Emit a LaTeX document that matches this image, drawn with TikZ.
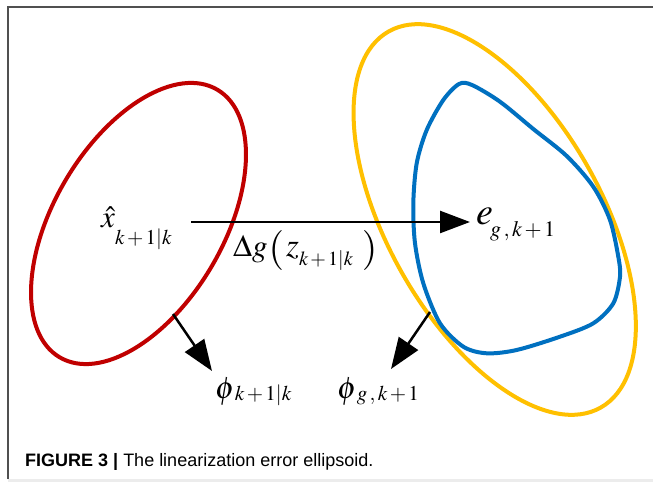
\documentclass[tikz,border=0pt]{standalone}
\usepackage{mathptmx}
\usepackage{fontspec}
\setsansfont{Liberation Sans}
\usetikzlibrary{arrows.meta}
\definecolor{redE}{RGB}{192,0,0}
\definecolor{goldE}{RGB}{255,192,0}
\definecolor{blueE}{RGB}{0,112,192}
\definecolor{frameC}{RGB}{80,80,80}
% #1 main size, #2 main math, #3 sub size, #4 sub math, #5 drop, #6 kern
\newcommand\mylab[6]{\mbox{\fontsize{#1}{#1}\selectfont$#2$}\kern#6\raisebox{-#5}{\fontsize{#3}{#3}\selectfont$#4$}}
\newcommand\bigpar[1]{\raisebox{-3.5pt}{\fontsize{40}{40}\selectfont$#1$}}
\newcommand\subkk{k\mkern2mu{+}\mkern2mu1|k}
\newcommand\subgk{g\mkern2mu,k\mkern2mu{+}\mkern2mu1}
\tikzset{
  curveline/.style={line width=4pt},
  arr/.style={line width=2.5pt, -{Triangle[length=30pt,width=22pt]}},
  arrd/.style={line width=2.5pt, -{Triangle[length=31pt,width=23pt]}},
  lbl/.style={inner sep=0pt},
  caption/.style={inner sep=0pt, font=\fontsize{18}{21}\selectfont\sffamily}
}
\begin{document}
\begin{tikzpicture}[x=1pt,y=1pt]
\useasboundingbox (0,0) rectangle (653,482);
\fill[white] (0,0) rectangle (653,482);
% frame
\fill[gray!15] (8,0) rectangle (653,3);
\draw[frameC, line width=2pt] (8,3) -- (8,475) -- (653,475);
% ellipses
\draw[redE, curveline] (138.5,258.5) ellipse [x radius=155.3, y radius=84.8, rotate=59.5];
\draw[goldE, curveline] (494.7,262.5) ellipse [x radius=215.9, y radius=107, rotate=-60.6];
\draw[blueE, curveline] plot[smooth cycle, tension=0.5] coordinates {
 (459,398) (472,397) (500,380.3) (533.3,353) (566.7,326) (593.3,295.3)
 (610,262) (618.3,225.3) (620,205.3) (613.3,178.7) (593.3,158.7) (560,145.3)
 (516.7,132) (486.7,128.7) (463.3,135.3) (440,158.7) (423.3,198.7) (415,238.7)
 (413.3,278.7) (416.7,318.7) (426.7,352) (443.3,382)};
% labels
\node[lbl, anchor=base west] (xhat) at (101,254) {\mylab{31}{\hat{x}}{21}{\subkk}{17pt}{0pt}};
\node[lbl, anchor=base west] (eg) at (476,257) {\mylab{38}{e}{22}{\subgk}{12pt}{-3pt}};
\node[lbl, anchor=base west] (dg) at (233,225) {\mbox{\fontsize{31}{31}\selectfont$\Delta g$}\kern1pt\bigpar{(}\kern2pt\mylab{33}{z}{20}{\subkk}{9pt}{0pt}\kern9pt\bigpar{)}};
\node[lbl, anchor=base west] (phi1) at (215,84) {\mylab{31}{\phi}{21}{\subkk}{2pt}{0pt}};
\node[lbl, anchor=base west] (phi2) at (337,84) {\mylab{31}{\phi}{21}{\subgk}{2pt}{0pt}};
% connectors
\coordinate (h0) at (191,260);
\coordinate (h1) at (470,260);
\coordinate (r0) at (173,168);
\coordinate (r1) at (212,111);
\coordinate (g0) at (430,170);
\coordinate (g1) at (391,113);
\draw[arr] (h0) -- (h1);
\draw[arrd] (r0) -- (r1);
\draw[arrd] (g0) -- (g1);
% caption
\node[caption, anchor=base west] (cap) at (25,16) {\textbf{FIGURE 3 |} The linearization error ellipsoid.};
\end{tikzpicture}
\end{document}
